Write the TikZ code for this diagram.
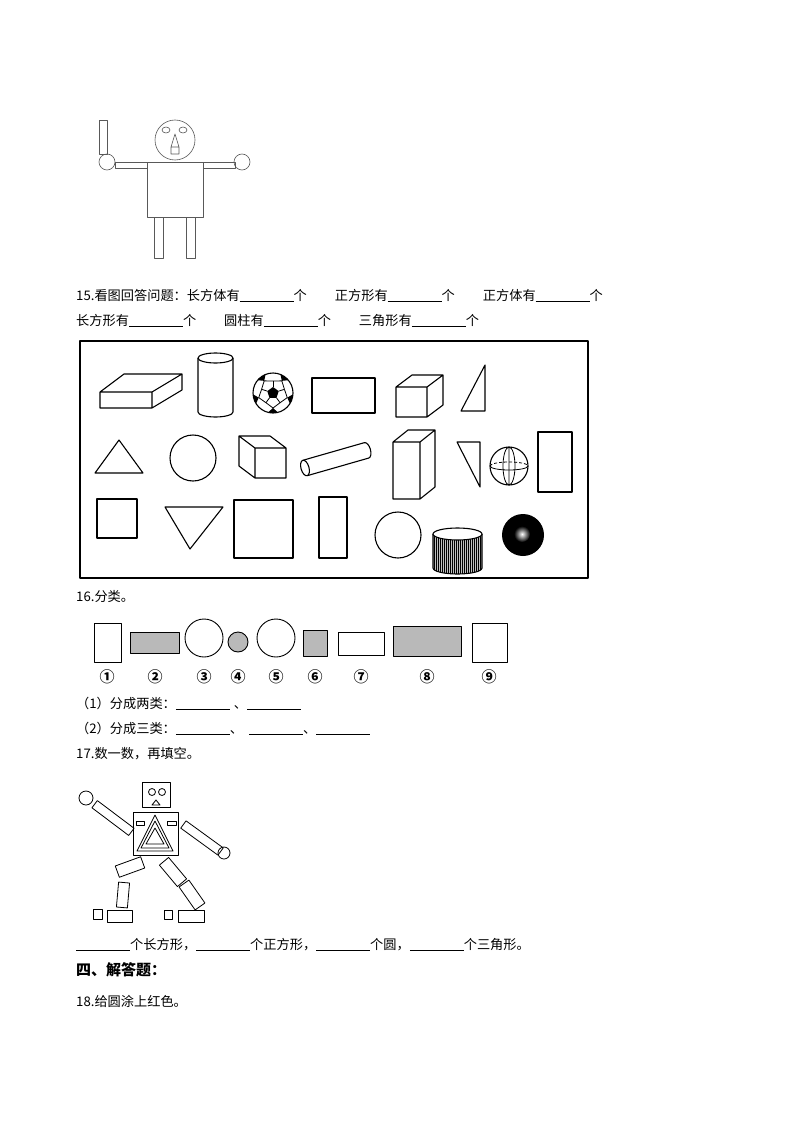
\documentclass[tikz,border=0pt]{standalone}
\usepackage{fontspec}
\setmainfont{Noto Sans CJK SC}
\newcommand\blank{\rule[-1.5pt]{54pt}{0.6pt}}
\begin{document}
\begin{tikzpicture}[x=1pt,y=-1pt,line join=round,
  txt/.style={anchor=base west,inner sep=0pt,font=\fontsize{13.2}{15}\selectfont},
  sh/.style={draw,line width=1.1pt},
  th/.style={draw,line width=0.6pt,gray!70!black},
  rb/.style={draw,line width=0.8pt,inner sep=0pt,minimum width=#1},
  gr/.style={sh,fill=gray!55}]
\useasboundingbox (0,0) rectangle (794,1123);
% ---- figure 1
\begin{scope}[th]
\draw (175,140) circle (20);
\draw (166,130) ellipse (4 and 3); \draw (183,130) ellipse (4 and 3);
\draw (175,134)--(179,147)--(179,154)--(171,154)--(171,147)--cycle (171,147)--(179,147);
\draw (147,162) rectangle (203,217);
\draw (115,162) rectangle (147,168); \draw (203,162) rectangle (235,168);
\draw (107,162) circle (8); \draw (242,162) circle (8);
\draw (99,120) rectangle (107,154);
\draw (154,217) rectangle (163,258); \draw (186,217) rectangle (195,258);
\end{scope}
% ---- text 15
\node[txt] (t15) at (76,300) {15.看图回答问题：长方体有\blank 个\hspace{28pt}正方形有\blank 个\hspace{28pt}正方体有\blank 个};
\node[txt] (t15b) at (76,325) {长方形有\blank 个\hspace{28pt}圆柱有\blank 个\hspace{28pt}三角形有\blank 个};
\draw[line width=1.4pt] (80,341) rectangle (588,578);
% row 1
\draw[sh] (100,392) rectangle (152,408) (100,392)--(124,374)--(182,374)--(152,392) (182,374)--(182,390)--(152,408);
\draw[sh] (198,358)--(198,412) arc[start angle=180,end angle=0,x radius=17.5,y radius=5]--(233,358);
\draw[sh] (215.5,358) ellipse (17.5 and 5);
\begin{scope}
\clip (273,393) circle (20);
\fill (273,393)+(-90:6)--+(-162:6)--+(-234:6)--+(-306:6)--+(-18:6)--cycle;
\foreach \a in {-90,-162,-234,-306,-18}{
  \draw[line width=0.8pt] (273,393)+(\a:6)--+(\a:12);
  \draw[line width=0.8pt] (273,393)+(\a:12)--+(\a+36:15)--+(\a+72:12);
  \fill (273,393)+(\a+36:15)--+(\a+20:21)--+(\a+52:21)--cycle;}
\end{scope}
\draw[sh] (273,393) circle (20);
\draw[sh] (312,378) rectangle (375,413);
\draw[sh] (396,387) rectangle (427,417) (396,387)--(412,375)--(443,375)--(427,387) (443,375)--(443,405)--(427,417);
\draw[sh] (461,411)--(485,411)--(485,365)--cycle;
% row 2
\draw[sh] (95,473)--(143,473)--(119,440)--cycle;
\draw[sh] (193,458) circle (23);
\draw[sh] (255,448) rectangle (286,478) (255,448)--(239,436)--(270,436)--(286,448) (239,436)--(239,466)--(255,478);
\begin{scope}[rotate around={16:(305,468)}]
\draw[sh] (305,460)--(369,460) arc[start angle=-90,end angle=90,x radius=4,y radius=8]--(305,476);
\draw[sh] (305,468) ellipse (4 and 8);
\end{scope}
\draw[sh] (393,442) rectangle (420,499) (393,442)--(408,430)--(435,430)--(420,442) (435,430)--(435,487)--(420,499);
\draw[sh] (457,442)--(480,442)--(480,487)--cycle;
\draw[sh] (509,466) circle (19);
\draw[line width=0.8pt] (509,466) ellipse (6 and 19) (509,447)--(509,485);
\draw[line width=0.8pt,densely dashed] (490,466) arc[start angle=180,end angle=360,x radius=19,y radius=4];
\draw[line width=0.8pt] (490,466) arc[start angle=180,end angle=0,x radius=19,y radius=4];
\draw[sh] (538,432) rectangle (572,492);
% row 3
\draw[sh] (97,499) rectangle (137,538);
\draw[sh] (165,507)--(223,507)--(190,549)--cycle;
\draw[sh] (234,500) rectangle (293,558);
\draw[sh] (319,497) rectangle (347,558);
\draw[sh] (398,535) circle (23);
\begin{scope}
\clip (433,534)--(433,568) arc[start angle=180,end angle=0,x radius=24.5,y radius=6]--(482,534)--cycle;
\fill[gray!50] (433,530) rectangle (482,576);
\foreach \i in {0,...,24}{\draw[line width=0.5pt] (434+2*\i,534)--(434+2*\i,576);}
\end{scope}
\draw[sh] (433,534)--(433,568) arc[start angle=180,end angle=0,x radius=24.5,y radius=6]--(482,534);
\draw[sh,fill=white] (457.5,534) ellipse (24.5 and 6);
\fill[black] (523,535) circle (21);
\shade[inner color=white,outer color=black] (522,534) circle (8);
% ---- 16
\node[txt] (t16) at (76,601) {16.分类。};
\draw[sh,line width=0.9pt] (94,623) rectangle (121,662);
\draw[gr,line width=0.9pt] (130,632) rectangle (179,653);
\draw[sh,line width=0.9pt] (204,638) circle (19);
\draw[gr,line width=0.9pt] (238,642) circle (10);
\draw[sh,line width=0.9pt] (276,638) circle (19);
\draw[gr,line width=0.9pt] (303,630) rectangle (327,656);
\draw[sh,line width=0.9pt] (338,632) rectangle (384,655);
\draw[gr,line width=0.9pt] (393,626) rectangle (461,656);
\draw[sh,line width=0.9pt] (472,623) rectangle (507,662);
\foreach \x/\l in {107/①,155/②,204/③,238/④,276/⑤,315/⑥,361/⑦,427/⑧,489/⑨}
  \node[font=\fontsize{15}{16}\selectfont\bfseries,inner sep=0pt] at (\x,677) {\l};
\node[txt] (t161) at (76,708) {（1）分成两类：\blank\hspace{4pt}、\blank};
\node[txt] (t162) at (76,733) {（2）分成三类：\blank、\hspace{6pt}\blank、\blank};
\node[txt] (t17) at (76,758) {17.数一数，再填空。};
% ---- robot
\begin{scope}[line width=0.8pt]
\draw (142,782) rectangle (170,807);
\draw (152,792) circle (3.5); \draw (162,792) circle (3.5);
\draw (152,805)--(160,805)--(156,800)--cycle;
\draw (133,812) rectangle (178,855);
\draw (136,821) rectangle (144,825); \draw (167,821) rectangle (176,825);
\draw (137,851)--(173,851)--(155,815)--cycle;
\draw (141,848)--(169,848)--(155,821)--cycle;
\draw (146,844)--(164,844)--(155,828)--cycle;
\node[rb=46pt,minimum height=9pt,rotate=-37] (la) at (113,818) {};
\draw (86,798) circle (7);
\node[rb=46pt,minimum height=9pt,rotate=-36] (ra) at (202,838) {};
\draw (224,853) circle (6);
\node[rb=27pt,minimum height=12pt,rotate=20] (tl) at (130,867) {};
\node[rb=25pt,minimum height=11pt,rotate=85] (sl) at (123,895) {};
\draw (93,909) rectangle (102,919); \draw (107,910) rectangle (132,922);
\node[rb=28pt,minimum height=12pt,rotate=-50] (tr) at (173,872) {};
\node[rb=28pt,minimum height=12pt,rotate=-55] (sr) at (192,895) {};
\draw (164,910) rectangle (172,919); \draw (178,910) rectangle (204,922);
\end{scope}
\node[txt] (t17b) at (76,949) {\blank 个长方形，\blank 个正方形，\blank 个圆，\blank 个三角形。};
\node[txt,font=\fontsize{15}{17}\selectfont\bfseries] (t4) at (76,975) {四、解答题：};
\node[txt] (t18) at (76,1006) {18.给圆涂上红色。};
\end{tikzpicture}
\end{document}
